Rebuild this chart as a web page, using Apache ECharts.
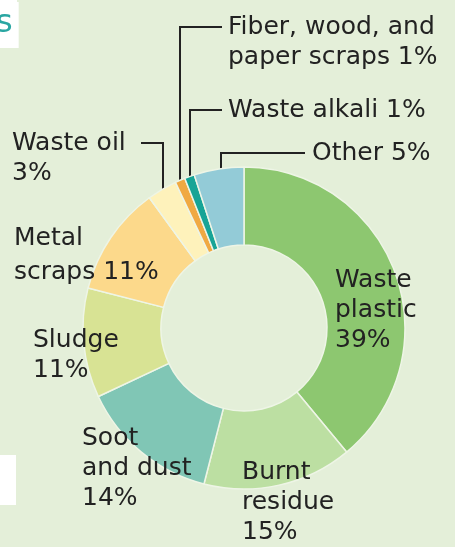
<!DOCTYPE html>
<html lang="en">
<head>
    <meta charset="utf-8"/>
    <title>Industrial waste breakdown</title>
    <script src="https://cdn.jsdelivr.net/npm/echarts@6/dist/echarts.min.js"></script>
</head>
<body style="margin:0;background:#e4efd9;">
<div id="pie" style="width:455px;height:547px;"></div>

<script type="text/javascript">
    // clockwise from 12 o'clock
    const names = [
        'Waste\nplastic', 'Burnt\nresidue', 'Soot\nand dust', 'Sludge',
        'Metal\nscraps', 'Waste oil', 'Fiber, wood, and\npaper scraps', 'Waste alkali', 'Other'
    ];
    const shares = [39, 15, 14, 11, 11, 3, 1, 1, 5];
    const labelTexts = [
        'Waste\nplastic\n39%', 'Burnt\nresidue\n15%', 'Soot\nand dust\n14%', 'Sludge\n11%',
        'Metal\nscraps 11%', 'Waste oil\n3%', 'Fiber, wood, and\npaper scraps 1%', 'Waste alkali 1%', 'Other 5%'
    ];
    const colors = [
        '#8dc770', '#bcdfa2', '#80c6b5', '#d8e394',
        '#fcd98b', '#fef2bb', '#f0a942', '#17a496', '#93cbd7'
    ];

    // label placement: top-left corner of the text block,
    // and for called-out slices the leader (x of the vertical, y where it ends in the slice)
    const place = [
        {x: 335, y: 265},
        {x: 242, y: 457},
        {x: 82, y: 423},
        {x: 33, y: 325},
        {x: 14, y: 221, lh: 34},
        {x: 12, y: 128, lead: [163, 198, 141, 143]},
        {x: 228, y: 12, lead: [180, 187, 222, 27]},
        {x: 228, y: 95, lead: [190, 182, 222, 110]},
        {x: 312, y: 138, lead: [221, 183, 305, 153]}
    ];

    let data = names.map(function (n, i) {
        let lab = {formatter: labelTexts[i]};
        if (place[i].lh) lab.lineHeight = place[i].lh;
        return {
            name: n,
            value: shares[i],
            itemStyle: {color: colors[i]},
            label: lab,
            labelLine: {show: !!place[i].lead}
        };
    });

    let chart = echarts.init(document.getElementById('pie'));
    chart.setOption({
        backgroundColor: '#e4efd9',
        title: {
            text: 's',
            left: -4,
            top: 2,
            padding: [6, 6, 8, 0],
            backgroundColor: '#ffffff',
            textStyle: {
                color: '#2aa6a2',
                fontSize: 32,
                fontWeight: 'normal',
                fontFamily: 'DejaVu Sans'
            }
        },
        graphic: [{
            type: 'rect',
            shape: {x: 0, y: 0, width: 17, height: 4},
            style: {fill: '#ffffff'}
        }, {
            type: 'rect',
            shape: {x: 0, y: 455, width: 16, height: 50},
            style: {fill: '#ffffff'}
        }],
        series: [{
            type: 'pie',
            center: [244, 328],
            radius: [83, 161],
            startAngle: 90,
            clockwise: true,
            avoidLabelOverlap: false,
            itemStyle: {
                borderColor: '#eef5e6',
                borderWidth: 1.5
            },
            label: {
                show: true,
                position: 'outside',
                color: '#222',
                fontSize: 25,
                lineHeight: 30,
                fontFamily: 'DejaVu Sans',
                align: 'left'
            },
            labelLine: {
                lineStyle: {color: '#222', width: 2}
            },
            labelLayout: function (params) {
                let p = place[params.dataIndex];
                let res = {x: p.x, y: p.y, align: 'left', verticalAlign: 'top'};
                if (p.lead) {
                    res.labelLinePoints = [
                        [p.lead[0], p.lead[1]],
                        [p.lead[0], p.lead[3]],
                        [p.lead[2], p.lead[3]]
                    ];
                }
                return res;
            },
            emphasis: {disabled: true},
            data: data
        }]
    });
</script>
</body>
</html>
